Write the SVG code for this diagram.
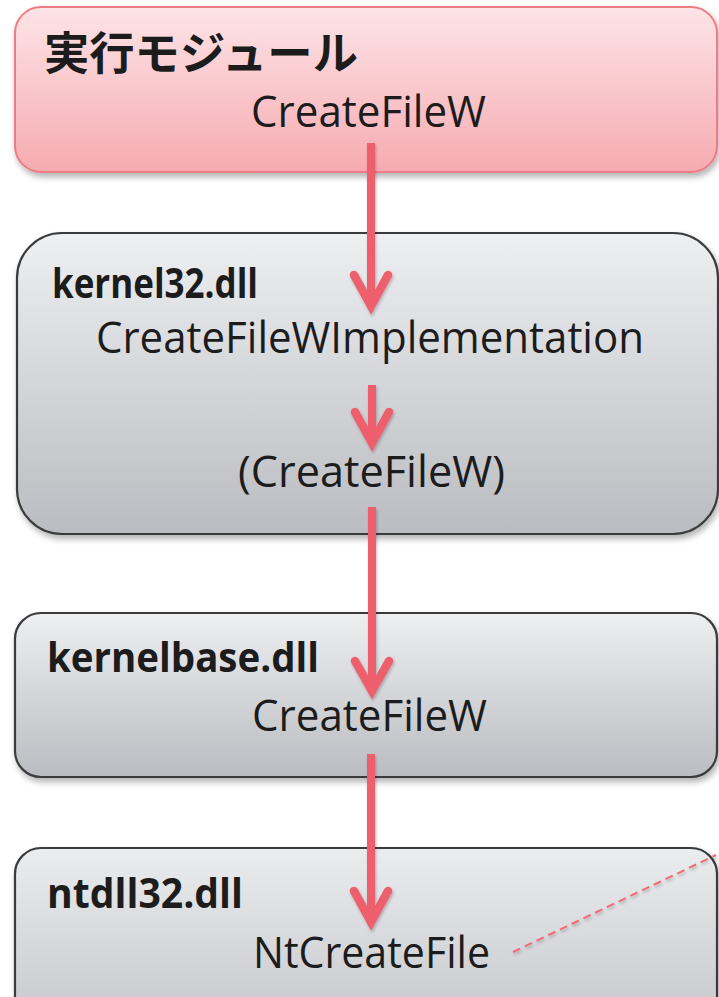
<svg xmlns="http://www.w3.org/2000/svg" width="719" height="997" viewBox="0 0 719 997">
  <defs>
    <linearGradient id="gPink" x1="0" y1="0" x2="0" y2="1">
      <stop offset="0" stop-color="#fde4e7"/>
      <stop offset="1" stop-color="#f6abb1"/>
    </linearGradient>
    <linearGradient id="gGray" x1="0" y1="0" x2="0" y2="1">
      <stop offset="0" stop-color="#eeeff1"/>
      <stop offset="1" stop-color="#bbbcc1"/>
    </linearGradient>
    <linearGradient id="gGray4" x1="0" y1="0" x2="0" y2="1">
      <stop offset="0" stop-color="#ebecee"/>
      <stop offset="1" stop-color="#c6c7cb"/>
    </linearGradient>
    <filter id="shadow" x="-5%" y="-10%" width="115%" height="130%">
      <feDropShadow dx="2" dy="4" stdDeviation="3" flood-color="#000" flood-opacity="0.3"/>
    </filter>
    <filter id="arrowShadow" x="-50%" y="-10%" width="200%" height="130%">
      <feDropShadow dx="1" dy="2" stdDeviation="1.5" flood-color="#000" flood-opacity="0.25"/>
    </filter>
  </defs>
  <style>
    .box-pink { fill: url(#gPink); stroke: #ee7b82; stroke-width: 2; filter: url(#shadow); }
    .box-gray { fill: url(#gGray); stroke: #3b3b3d; stroke-width: 2.2; filter: url(#shadow); }
    .box-gray4 { fill: url(#gGray4); stroke: #3b3b3d; stroke-width: 2.2; filter: url(#shadow); }
    .title { font-family: "Noto Sans CJK JP", "Noto Sans", sans-serif; font-weight: 700; font-size: 45px; fill: #1c1c1c; }
    .label { font-family: "Open Sans", "Noto Sans", sans-serif; font-weight: 700; font-size: 42px; fill: #1c1c1c; }
    .fn { font-family: "Open Sans", "Noto Sans", sans-serif; font-weight: 400; font-size: 44px; fill: #1c1c1c; }
    .conn { fill: none; stroke: #ee5f6d; stroke-width: 8; stroke-linecap: butt; }
    .head { fill: none; stroke: #ee5f6d; stroke-width: 8.5; stroke-linecap: round; stroke-linejoin: miter; }
    .dash { fill: none; stroke: #f06a76; stroke-width: 2; stroke-dasharray: 8 5; }
  </style>

  <!-- module boxes -->
  <g id="exe-module">
    <rect class="box-pink" x="15" y="7" width="702" height="165" rx="26" ry="26"/>
    <text class="title" x="44" y="70" textLength="314" lengthAdjust="spacingAndGlyphs">実行モジュール</text>
    <text class="fn" x="251" y="127" textLength="235" lengthAdjust="spacingAndGlyphs">CreateFileW</text>
  </g>

  <g id="kernel32">
    <rect class="box-gray" x="17" y="233" width="701" height="301" rx="45" ry="45"/>
    <text class="label" x="52" y="298" textLength="206" lengthAdjust="spacingAndGlyphs">kernel32.dll</text>
    <text class="fn" x="96" y="353" textLength="548" lengthAdjust="spacingAndGlyphs">CreateFileWImplementation</text>
    <text class="fn" x="238" y="487" textLength="267" lengthAdjust="spacingAndGlyphs">(CreateFileW)</text>
  </g>

  <g id="kernelbase">
    <rect class="box-gray" x="15" y="613" width="702" height="164" rx="26" ry="26"/>
    <text class="label" x="47" y="672" textLength="272" lengthAdjust="spacingAndGlyphs">kernelbase.dll</text>
    <text class="fn" x="252" y="731" textLength="235" lengthAdjust="spacingAndGlyphs">CreateFileW</text>
  </g>

  <g id="ntdll32">
    <rect class="box-gray4" x="15" y="848" width="702" height="180" rx="26" ry="26"/>
    <text class="label" x="47" y="908" textLength="196" lengthAdjust="spacingAndGlyphs">ntdll32.dll</text>
    <text class="fn" x="253" y="968" textLength="237" lengthAdjust="spacingAndGlyphs">NtCreateFile</text>
  </g>

  <!-- call flow connectors -->
  <g id="connectors" filter="url(#arrowShadow)">
    <line class="conn" x1="371" y1="143" x2="371" y2="303"/>
    <polyline class="head" points="354,275 371,306 388,275"/>

    <line class="conn" x1="372" y1="385" x2="372" y2="440"/>
    <polyline class="head" points="355,412 372,443 389,412"/>

    <line class="conn" x1="372" y1="507" x2="372" y2="688"/>
    <polyline class="head" points="355,661 372,691 389,661"/>

    <line class="conn" x1="371" y1="754" x2="371" y2="919"/>
    <polyline class="head" points="354,891 371,922 388,891"/>

    <line class="dash" x1="513" y1="952" x2="716" y2="855"/>
  </g>
</svg>
